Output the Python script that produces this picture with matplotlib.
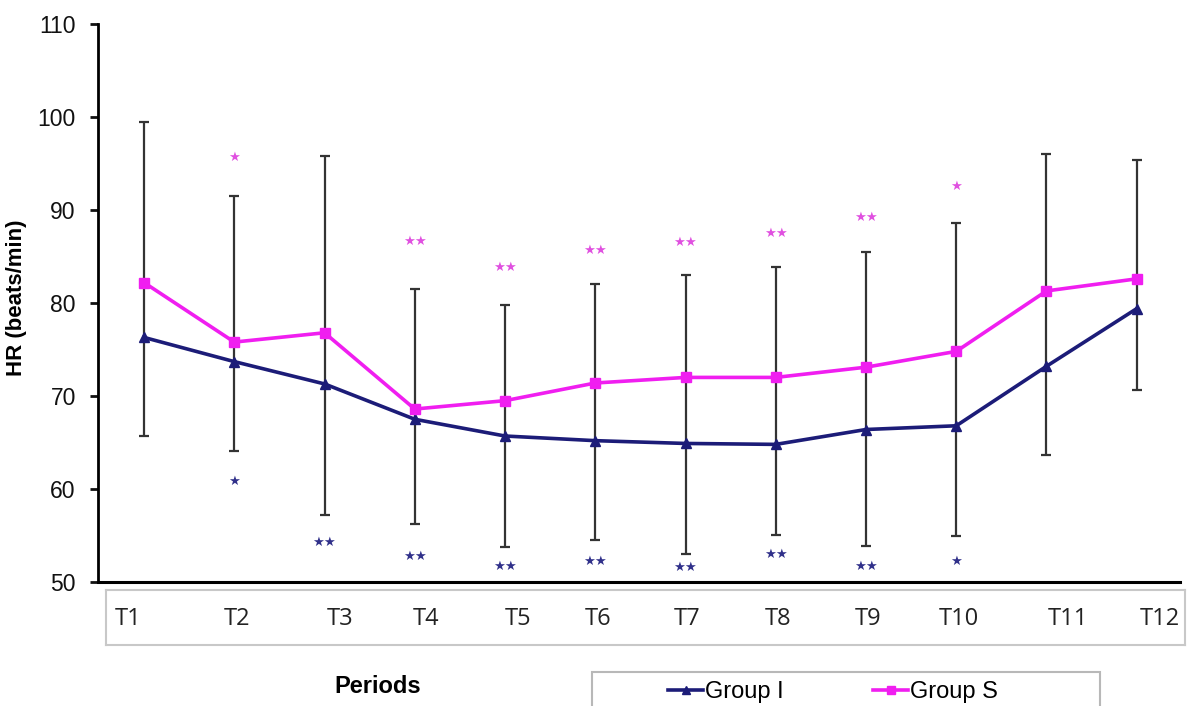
import numpy as np
import matplotlib
matplotlib.use("Agg")
import matplotlib.pyplot as plt
from matplotlib.patches import Rectangle

plt.rcParams["font.family"] = ["Liberation Sans", "DejaVu Sans"]

periods = ["T1", "T2", "T3", "T4", "T5", "T6", "T7", "T8", "T9", "T10", "T11", "T12"]
group_s = [82.2, 75.8, 76.8, 68.6, 69.5, 71.4, 72.0, 72.0, 73.1, 74.8, 81.3, 82.6]
group_i = [76.3, 73.7, 71.3, 67.5, 65.7, 65.2, 64.9, 64.8, 66.4, 66.8, 73.2, 79.4]
# top of S error bar / bottom of I error bar
s_upper = [99.5, 91.5, 95.8, 81.5, 79.8, 82.0, 83.0, 83.9, 85.5, 88.6, 96.0, 95.4]
i_lower = [65.7, 64.1, 57.2, 56.2, 53.8, 54.5, 53.0, 55.1, 53.9, 55.0, 63.7, 70.7]

# significance marks (above = Group S, below = Group I)
sig_s = ["", "*", "", "**", "**", "**", "**", "**", "**", "*", "", ""]
sig_s_y = [0, 95.7, 0, 86.6, 83.8, 85.6, 86.5, 87.5, 89.2, 92.5, 0, 0]
sig_i = ["", "*", "**", "**", "**", "**", "**", "**", "**", "*", "", ""]
sig_i_y = [0, 60.8, 54.3, 52.8, 51.7, 52.2, 51.6, 53.0, 51.7, 52.2, 0, 0]

MAGENTA = "#f01ef0"
NAVY = "#1c1c78"
BAR = "#333333"

x = np.arange(1, len(periods) + 1)
s = np.array(group_s)
i = np.array(group_i)

fig = plt.figure(figsize=(11.95, 7.06), dpi=100)
ax = fig.add_axes([0.082, 0.1756, 0.9055, 0.7904])

# one continuous bar per period: from I-SD up to S+SD
ax.errorbar(x, s, yerr=[s - np.array(i_lower), np.array(s_upper) - s],
            fmt="none", ecolor=BAR, elinewidth=1.6, capsize=3.5, capthick=1.6,
            zorder=1)

ax.plot(x, i, color=NAVY, lw=2.6, marker="^", ms=7, zorder=3, label="Group I")
ax.plot(x, s, color=MAGENTA, lw=2.6, marker="s", ms=7, zorder=3, label="Group S")

for xi, txt, yv in zip(x, sig_s, sig_s_y):
    if txt:
        ax.text(xi, yv, "\u2605" * len(txt), color="#e050e0", fontsize=9.5,
                ha="center", va="center", family="DejaVu Sans")
for xi, txt, yv in zip(x, sig_i, sig_i_y):
    if txt:
        ax.text(xi, yv, "\u2605" * len(txt), color="#30308a", fontsize=9.5,
                ha="center", va="center", family="DejaVu Sans")

ax.set_xlim(0.49, 12.48)
ax.set_ylim(50, 110)
ax.set_yticks(np.arange(50, 111, 10))
ax.set_xticks([])
ax.spines["top"].set_visible(False)
ax.spines["right"].set_visible(False)
ax.spines["left"].set_linewidth(2)
ax.spines["bottom"].set_linewidth(2.2)
ax.tick_params(axis="y", direction="out", length=6, width=2, labelsize=16.5,
               pad=10, colors="#111111")
ax.set_ylabel("HR (beats/min)", fontsize=16, fontweight="bold")
ax.yaxis.set_label_coords(-0.066, 0.51)

# category label box under the plot
lab = fig.add_axes([0.0887, 0.0864, 0.903, 0.078])
lab.set_xlim(0.58, 12.53)
lab.set_ylim(0, 1)
lab.set_xticks([])
lab.set_yticks([])
for sp in lab.spines.values():
    sp.set_edgecolor("#c8c8c8")
    sp.set_linewidth(1.5)
label_pos = [0.82, 2.03, 3.17, 4.13, 5.14, 6.03, 7.02, 8.02, 9.02, 10.02, 11.23, 12.25]
for px, name in zip(label_pos, periods):
    lab.text(px, 0.47, name, ha="center", va="center", fontsize=17,
             family="Open Sans", color="#222222")

fig.text(0.316, 0.028, "Periods", ha="center", va="center", fontsize=17,
         fontweight="bold")

# legend box, cut by the lower edge as in the source
fig.patches.append(Rectangle((592 / 1195, -0.02), 508 / 1195, 34 / 706 + 0.02,
                             transform=fig.transFigure, facecolor="white",
                             edgecolor="#b8b8b8", lw=1.5))
leg = fig.legend(loc="center left", bbox_to_anchor=(668 / 1195, 1 - 692 / 706),
                 ncol=2, frameon=False, fontsize=17, handlelength=1.5,
                 handletextpad=0.05, columnspacing=3.8, borderaxespad=0,
                 borderpad=0, markerscale=0.75)

fig.savefig("out.png", dpi=100)
